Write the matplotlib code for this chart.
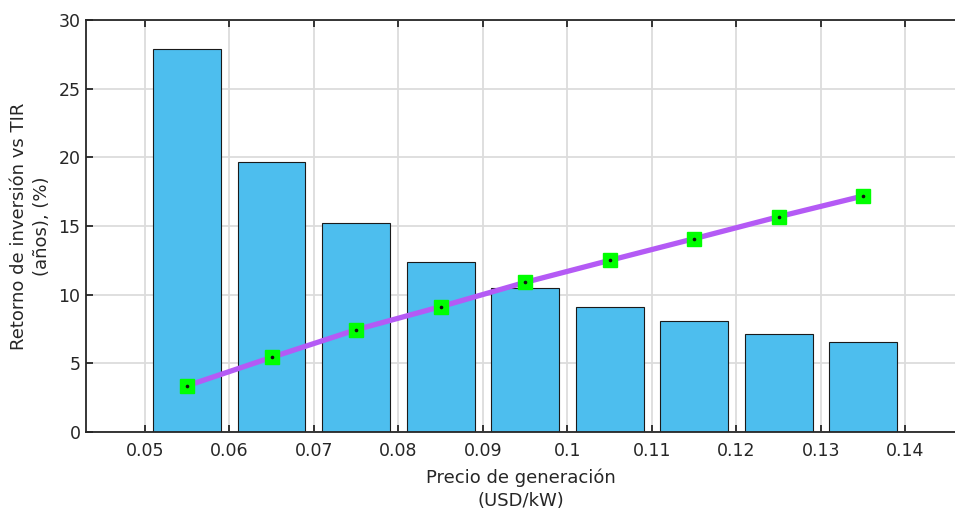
import matplotlib
matplotlib.use("Agg")
import matplotlib.pyplot as plt

# Generation price (USD/kW)
precio = [0.055, 0.065, 0.075, 0.085, 0.095, 0.105, 0.115, 0.125, 0.135]
# Payback period (years)
retorno = [27.87, 19.66, 15.20, 12.40, 10.46, 9.08, 8.08, 7.16, 6.53]
# Internal rate of return (%)
tir = [3.37, 5.44, 7.45, 9.13, 10.90, 12.50, 14.08, 15.68, 17.19]

xticks = [0.05, 0.06, 0.07, 0.08, 0.09, 0.1, 0.11, 0.12, 0.13, 0.14]
xticklabels = ["0.05", "0.06", "0.07", "0.08", "0.09", "0.1", "0.11", "0.12", "0.13", "0.14"]
yticks = [0, 5, 10, 15, 20, 25, 30]

plt.rcParams["font.family"] = ["DejaVu Sans"]
axis_col = "#262626"

fig = plt.figure(figsize=(9.55, 5.14), dpi=100)
ax = fig.add_axes([0.090, 0.1595, 0.910, 0.8015])

ax.bar(precio, retorno, width=0.008, color="#4DBEEE", edgecolor="#1a1a1a",
       linewidth=0.8, zorder=2)
ax.plot(precio, tir, color="#B45AF5", linewidth=3.8, marker="s", markersize=10,
        markerfacecolor="#00FF00", markeredgecolor="#00FF00", zorder=3)
ax.plot(precio, tir, linestyle="none", marker="o", markersize=1.6,
        color="#111111", zorder=4)

ax.set_xlim(0.04302, 0.14586)
ax.set_ylim(0, 30)
ax.set_xticks(xticks)
ax.set_xticklabels(xticklabels)
ax.set_yticks(yticks)

ax.set_axisbelow(True)
ax.grid(True, color="#DCDCDC", linewidth=1.3)

for side in ("left", "bottom", "top"):
    ax.spines[side].set_color(axis_col)
    ax.spines[side].set_linewidth(1.3)
ax.spines["right"].set_visible(False)

ax.tick_params(axis="both", direction="in", length=5, width=1.3, color=axis_col,
               labelcolor=axis_col, labelsize=12.5)
ax.tick_params(axis="x", top=True, pad=7)
ax.tick_params(axis="y", pad=4)

ax.set_xlabel("Precio de generación\n(USD/kW)", fontsize=13, color=axis_col,
              linespacing=1.4, labelpad=6)
ax.set_ylabel("Retorno de inversión vs TIR\n(años), (%)", fontsize=13,
              color=axis_col, linespacing=1.4, labelpad=5)

fig.savefig("out.png", dpi=100)
